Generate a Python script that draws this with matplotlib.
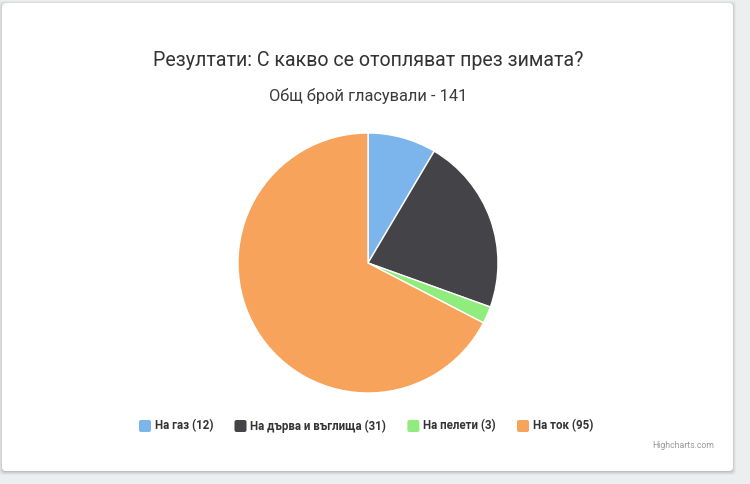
import matplotlib
matplotlib.use("Agg")
from matplotlib import pyplot as plt
from matplotlib.patches import FancyBboxPatch

# poll results
labels = ['На газ', 'На дърва и въглища', 'На пелети', 'На ток']
votes = [12, 31, 3, 95]
colors = ['#7cb5ec', '#434348', '#90ed7d', '#f7a35c']
title = 'Резултати: С какво се отопляват през зимата?'
subtitle = 'Общ брой гласували - ' + str(sum(votes))

plt.rcParams['font.family'] = ['Roboto', 'DejaVu Sans']

W, H = 750, 484
fig = plt.figure(figsize=(W / 100, H / 100), dpi=100)
fig.patch.set_facecolor('#eceef0')
ax = fig.add_axes([0, 0, 1, 1])

# card with soft shadow
for k, a in [(4, 0.03), (3, 0.04), (2, 0.06), (1, 0.08)]:
    ax.add_patch(FancyBboxPatch((2 - k + 1, H - 471 - k), 731 + 2 * k - 2, 468 + 2 * k - 2,
                                boxstyle='round,pad=0,rounding_size=4',
                                fc='black', ec='none', alpha=a, zorder=1))
ax.add_patch(FancyBboxPatch((2, H - 471), 731, 468,
                            boxstyle='round,pad=0,rounding_size=4',
                            fc='white', ec='none', zorder=2))

wedges, _ = ax.pie(votes, colors=colors, center=(368, H - 263), radius=130,
                   startangle=90, counterclock=False, frame=True,
                   wedgeprops=dict(edgecolor='white', linewidth=1))
for w in wedges:
    w.set_zorder(3)
ax.set_xlim(0, W)
ax.set_ylim(0, H)
ax.set_aspect('auto')
ax.axis('off')

ax.text(368, H - 60, title, ha='center', va='center', fontsize=14.1,
        color='#333333', zorder=4)
ax.text(368, H - 96, subtitle, ha='center', va='center', fontsize=11.8,
        color='#3a3a3a', zorder=4)

# legend
x = 139
for lab, v, c in zip(labels, votes, colors):
    ax.add_patch(FancyBboxPatch((x, H - 432), 12, 12, boxstyle='round,pad=0,rounding_size=2',
                                fc=c, ec='none', zorder=4))
    t = ax.text(x + 16, H - 426, f'{lab} ({v})', ha='left', va='center', fontsize=8.3,
                fontweight='bold', color='#333333', zorder=4)
    fig.canvas.draw()
    bb = t.get_window_extent()
    x = bb.x1 + 21

ax.text(714, H - 446, 'Highcharts.com', ha='right', va='center', fontsize=6.3,
        color='#999999', zorder=4)

fig.savefig('out.png', dpi=100, facecolor=fig.get_facecolor())
